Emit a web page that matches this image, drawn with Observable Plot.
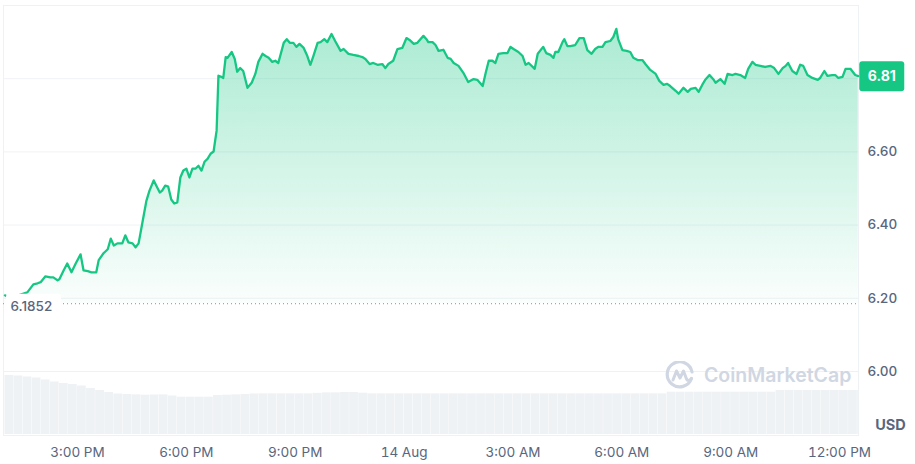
<!DOCTYPE html>
<html><head><meta charset="utf-8">
<script src="https://cdn.jsdelivr.net/npm/d3@7"></script>
<script src="https://cdn.jsdelivr.net/npm/@observablehq/plot@0.6"></script>
<style>
html,body{margin:0;padding:0;background:#fff;}
#chart{position:relative;width:915px;height:464px;font-family:Inter,"Noto Sans",sans-serif;}
#chart svg.layer{position:absolute;left:0;top:0;}
#wm{position:absolute;left:665px;top:361px;display:flex;align-items:center;gap:9px;color:#d0d7e2;font:600 19.5px Inter,sans-serif;pointer-events:none;}
</style></head><body><div id="chart"></div>
<script>
// minutes since 13 Aug 13:00
const minutes = [0,9,22,37,47,54,59,67,75,80,87,90,97,103,110,117,125,130,137,143,151,155,163,170,175,180,186,194,199,204,211,216,221,
228,234,239,246,252,256,260,265,270,275,280,285,290,295,300,305,310,315,320,325,330,335,340,345,350,353,358,361,365,368,375,380,384,389,394,401,408,414,419,426,431,436,442,447,452,
461,466,471,477,482,487,494,500,505,510,517,522,528,533,540,546,555,560,568,576,585,591,596,603,609,616,624,629,634,642,649,657,664,669,676,682,
687,692,697,700,707,712,717,725,732,737,742,750,758,766,775,781,790,795,800,806,811,816,824,831,836,841,849,856,861,866,876,881,890,895,902,907,910,915,922,925,930,935,
943,950,957,963,970,976,981,988,993,1001,1006,1011,1014,1021,1028,1034,1039,1046,1054,1059,1067,1076,1082,1089,1095,1100,1109,1114,1122,1129,1134,1142,1147,1153,1158,1165,1172,1175,1183,
1190,1195,1203,1208,1216,1224,1229,1236,1241,1249,1257,1266,1272,1279,1286,1291,1295,1302,1309,1315,1320,1327,1335,1344,1348,1355,1360,1368,1373,1378,1385,1390,1398,1406,1411];
const prices = [6.208,6.200,6.208,6.216,6.238,6.241,6.244,6.260,6.257,6.257,6.249,6.252,6.276,6.295,6.271,6.295,6.320,6.276,6.274,6.271,6.271,6.304,6.323,6.334,6.363,6.344,6.350,6.350,6.372,6.353,6.350,6.339,6.350,
6.413,6.467,6.494,6.522,6.502,6.489,6.494,6.508,6.505,6.470,6.459,6.462,6.530,6.549,6.554,6.530,6.554,6.554,6.562,6.549,6.573,6.581,6.595,6.601,6.658,6.808,6.805,6.802,6.859,6.857,6.873,6.854,6.819,6.829,6.821,6.775,6.789,6.813,6.846,6.868,6.862,6.857,6.846,6.849,6.843,
6.898,6.908,6.898,6.898,6.887,6.895,6.884,6.862,6.838,6.862,6.898,6.900,6.908,6.900,6.922,6.903,6.876,6.881,6.868,6.865,6.862,6.859,6.854,6.840,6.843,6.838,6.840,6.829,6.840,6.849,6.881,6.884,6.911,6.906,6.895,6.898,
6.908,6.917,6.908,6.900,6.900,6.892,6.876,6.879,6.857,6.854,6.843,6.835,6.816,6.791,6.799,6.797,6.780,6.816,6.849,6.849,6.843,6.868,6.870,6.870,6.887,6.881,6.873,6.862,6.838,6.843,6.827,6.868,6.887,6.870,6.865,6.857,6.873,6.873,6.900,6.908,6.889,6.889,
6.892,6.911,6.911,6.878,6.868,6.881,6.887,6.887,6.900,6.903,6.914,6.936,6.908,6.878,6.876,6.873,6.857,6.851,6.851,6.840,6.824,6.813,6.794,6.783,6.786,6.780,6.767,6.759,6.775,6.764,6.772,6.775,6.764,6.783,6.797,6.810,6.797,6.789,6.799,
6.786,6.813,6.810,6.813,6.810,6.802,6.827,6.846,6.838,6.835,6.832,6.835,6.829,6.813,6.829,6.835,6.843,6.821,6.813,6.838,6.835,6.810,6.802,6.797,6.802,6.821,6.808,6.810,6.810,6.802,6.805,6.827,6.827,6.810,6.807];
// 15-minute volume bars (relative units)
const volumes = [59,58.5,57.5,56.5,54.5,52.5,51,50,48.5,46,44,42,40.5,40,39.7,39.3,39.5,39.7,38.5,37.3,37.3,37.3,37.3,39,39.3,39.7,40,40.5,40.7,40.7,
40.7,40.7,40.7,40.7,41.2,41.7,41.7,42,42,41.3,40.7,40.7,40.7,40.7,40.7,40.7,40.7,40.7,40.7,40.7,40.7,40.7,40.7,40.7,40.7,40.7,40.7,40.7,40.7,40.7,
40.7,40.7,40.7,40.7,40.7,40.7,40.7,40.7,40.7,40.7,40.7,40.7,40.7,42.3,42.3,42.3,42.3,42.3,42.3,42.3,42.3,42.3,42.3,42.3,42.3,44,44,44,44,44,44,44,44,44,44];
const yTicks = [6.0, 6.2, 6.4, 6.6];
const yGrid = [6.0, 6.2, 6.4, 6.6, 6.8, 7.0];
const xTickLabels = ["3:00 PM","6:00 PM","9:00 PM","14 Aug","3:00 AM","6:00 AM","9:00 AM","12:00 PM"];
const xTickMinutes = [120, 300, 480, 660, 840, 1020, 1200, 1380];
const baseline = 6.1852;
const baselineLabel = "6.1852";
const lastLabel = "6.81";
const currency = "USD";

const t0 = new Date(2024, 7, 13, 13, 0).getTime();
const toDate = m => new Date(t0 + m * 60000);
const data = minutes.map((m, i) => ({t: toDate(m), p: prices[i]}));
const vol = volumes.map((v, i) => ({t1: toDate(i * 15), t2: toDate(i * 15 + 15), v}));
const xDomain = [toDate(-2.4), toDate(1411.4)];
const xTicks = xTickMinutes.map(toDate);
const last = data[data.length - 1];

const roundRect = (w, h, r) => ({draw(ctx) {
  const x = -w / 2, y = -h / 2;
  ctx.moveTo(x + r, y); ctx.lineTo(x + w - r, y); ctx.arcTo(x + w, y, x + w, y + r, r);
  ctx.lineTo(x + w, y + h - r); ctx.arcTo(x + w, y + h, x + w - r, y + h, r);
  ctx.lineTo(x + r, y + h); ctx.arcTo(x, y + h, x, y + h - r, r);
  ctx.lineTo(x, y + r); ctx.arcTo(x, y, x + r, y, r); ctx.closePath();
}});

const gradientDefs = () => {
  const ns = "http://www.w3.org/2000/svg";
  const defs = document.createElementNS(ns, "defs");
  const g = document.createElementNS(ns, "linearGradient");
  g.setAttribute("id", "areaGrad"); g.setAttribute("x1", "0"); g.setAttribute("y1", "0");
  g.setAttribute("x2", "0"); g.setAttribute("y2", "1");
  [["0", 0.36], ["1", 0.02]].forEach(([o, op]) => {
    const s = document.createElementNS(ns, "stop");
    s.setAttribute("offset", o); s.setAttribute("stop-color", "#16c784"); s.setAttribute("stop-opacity", op);
    g.appendChild(s);
  });
  defs.appendChild(g);
  return defs;
};

const common = {width: 915, height: 464, marginLeft: 3, marginRight: 57};

const pricePlot = Plot.plot({
  ...common,
  marginTop: 5, marginBottom: 29,
  style: {fontFamily: "Inter, sans-serif", fontSize: "13.5px", color: "#58667e", background: "white"},
  x: {type: "time", domain: xDomain, label: null},
  y: {domain: [5.825, 7.0], label: null},
  marks: [
    gradientDefs,
    Plot.gridY(yGrid, {stroke: "#eff2f5", strokeOpacity: 1, strokeWidth: 1}),
    Plot.frame({stroke: "#eff2f5"}),
    Plot.areaY(data, {x: "t", y1: baseline, y2: "p", fill: "url(#areaGrad)"}),
    Plot.ruleY([baseline], {stroke: "#9fa5b2", strokeDasharray: "1,3", strokeWidth: 1.2}),
    Plot.lineY(data, {x: "t", y: "p", stroke: "#16c784", strokeWidth: 2.3, strokeLinejoin: "round"}),
    Plot.dot([baseline], {x: xDomain[0], y: d => d, symbol: roundRect(55, 26, 3), fill: "white", dx: 30, dy: 3}),
    Plot.text([baseline], {x: xDomain[0], y: d => d, text: () => baselineLabel, textAnchor: "start", dx: 7, dy: 3, fill: "#58667e", fontSize: 13.5, fontWeight: 500}),
    Plot.axisY(yTicks, {anchor: "right", label: null, tickSize: 0, tickPadding: 9, tickFormat: d => d.toFixed(2), fontWeight: 500, fontSize: 13.5}),
    Plot.axisX(xTicks, {label: null, tickSize: 0, tickPadding: 12, tickFormat: (d, i) => xTickLabels[i], fontSize: 13.5}),
    Plot.dot([last], {x: "t", y: "p", symbol: roundRect(45, 30, 3), fill: "#16c784", dx: 23.5}),
    Plot.text([last], {x: "t", y: "p", text: () => lastLabel, dx: 23.5, fill: "white", fontWeight: 700, fontSize: 14}),
    Plot.text([currency], {frameAnchor: "bottom-right", text: d => d, dx: 32, dy: -6, textAnchor: "middle", fill: "#58667e", fontWeight: 700, fontSize: 14.5})
  ]
});
pricePlot.classList.add("layer");

const volPlot = Plot.plot({
  ...common,
  marginTop: 374, marginBottom: 30,
  style: {background: "transparent"},
  x: {type: "time", domain: xDomain, axis: null},
  y: {domain: [0, 60], axis: null},
  marks: [
    Plot.rectY(vol, {x1: "t1", x2: "t2", y: "v", fill: "#eff2f5", insetRight: 0.3, clip: true})
  ]
});
volPlot.classList.add("layer");
volPlot.style.pointerEvents = "none";

const chart = document.getElementById("chart");
chart.appendChild(pricePlot);
chart.appendChild(volPlot);

const wm = document.createElement("div");
wm.id = "wm";
wm.innerHTML = `<svg width="30" height="28" viewBox="0 0 30 28"><path d="M26.5 17.5 A12.5 12.5 0 1 1 27 11" fill="none" stroke="#d0d7e2" stroke-width="3.2" stroke-linecap="round"/><path d="M8 19 L11.5 10 L15 17 L18.5 10 L21.5 18 Q23 21 26.5 17.5" fill="none" stroke="#d0d7e2" stroke-width="3" stroke-linejoin="round" stroke-linecap="round"/></svg><span>CoinMarketCap</span>`;
chart.appendChild(wm);
</script>
</body></html>
